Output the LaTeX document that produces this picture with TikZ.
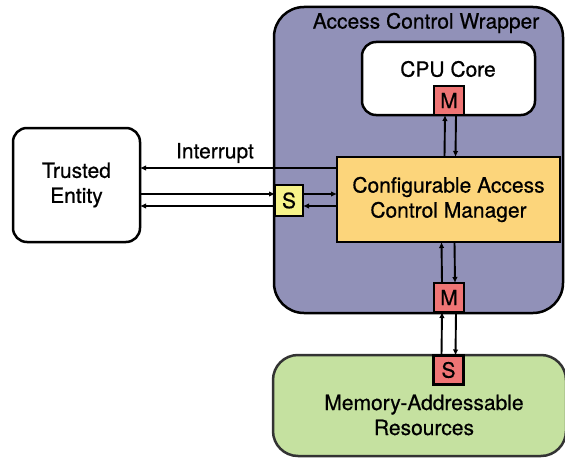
\documentclass[tikz,border=0pt]{standalone}
\usepackage{fontspec}
\setmainfont{TeX Gyre Heros}[FakeBold=0.6]
\usetikzlibrary{arrows.meta}
\definecolor{wrapfill}{RGB}{145,145,184}
\definecolor{mgrfill}{RGB}{252,213,123}
\definecolor{portred}{RGB}{239,117,117}
\definecolor{portyel}{RGB}{247,243,138}
\definecolor{memfill}{RGB}{197,225,160}
\begin{document}
\begin{tikzpicture}[x=1pt,y=-1pt,
  every node/.style={font=\fontsize{21}{25}\selectfont, inner sep=0pt, outer sep=0pt},
  block/.style={draw=black, line width=2.5pt, rounded corners=14pt, fill=white},
  portbox/.style={draw=black, line width=2.3pt, minimum width=30pt, minimum height=29pt},
  arr/.style={line width=1.9pt, -{Latex[length=6pt,width=5.5pt]}}
]
\useasboundingbox (0,0) rectangle (565,460);

% wrapper around the core and the manager
\node[block, fill=wrapfill, rounded corners=30pt, minimum width=289pt, minimum height=306pt] (wrap) at (418.5,160) {};
\node (wraplabel) at (426,23) {Access Control Wrapper};

% CPU core with its master port
\node[block, minimum width=173pt, minimum height=73pt] (cpu) at (448.5,78.5) {};
\node (cpulabel) at (448,69) {CPU Core};
\node[portbox, fill=portred] (mcpu) at (449,100.5) {M};

% access control manager
\node[draw=black, line width=2.5pt, fill=mgrfill, minimum width=223pt, minimum height=85pt, align=center] (mgr) at (448.5,199.5) {Configurable Access\\Control Manager};

% master port towards the memory
\node[portbox, fill=portred] (mbot) at (449,297.5) {M};

% memory-addressable resources with slave port
\node[block, fill=memfill, draw=black!80, rounded corners=25pt, minimum width=293pt, minimum height=101pt] (mem) at (419.5,405.5) {};
\node[align=center] (memlabel) at (424,415) {Memory-Addressable\\Resources};
\node[portbox, fill=portred] (smem) at (448.5,370) {S};

% trusted entity and its slave port on the wrapper
\node[block, minimum width=127pt, minimum height=114pt, align=center] (trusted) at (76.5,185) {Trusted\\Entity};
\node[portbox, fill=portyel, minimum width=28pt, minimum height=31pt] (syel) at (289,200.5) {S};

% connectors
\draw[arr] ([xshift=-4pt]mgr.north) -- ([xshift=-4pt]mcpu.south);
\draw[arr] ([xshift=7pt]mcpu.south) -- ([xshift=7pt]mgr.north);

\draw[arr] ([xshift=-7pt]mbot.north) -- ([xshift=-7pt]mgr.south);
\draw[arr] ([xshift=6pt]mgr.south) -- ([xshift=6pt]mbot.north);

\draw[arr] ([xshift=-7pt]smem.north) -- ([xshift=-7pt]mbot.south);
\draw[arr] ([xshift=7pt]mbot.south) -- ([xshift=7pt]smem.north);

\draw[arr] ([yshift=31.5pt]mgr.west) -- ([yshift=17pt]trusted.east);
\node (intlabel) at (215,153) {Interrupt};

\draw[arr] ([yshift=-9pt]trusted.east) -- ([yshift=6.5pt]syel.west);
\draw[arr] ([yshift=-5.5pt]syel.west) -- ([yshift=-21pt]trusted.east);

\draw[arr] ([yshift=6.5pt]syel.east) -- ([yshift=5.5pt]mgr.west);
\draw[arr] ([yshift=-6.5pt]mgr.west) -- ([yshift=-5.5pt]syel.east);
\end{tikzpicture}
\end{document}
